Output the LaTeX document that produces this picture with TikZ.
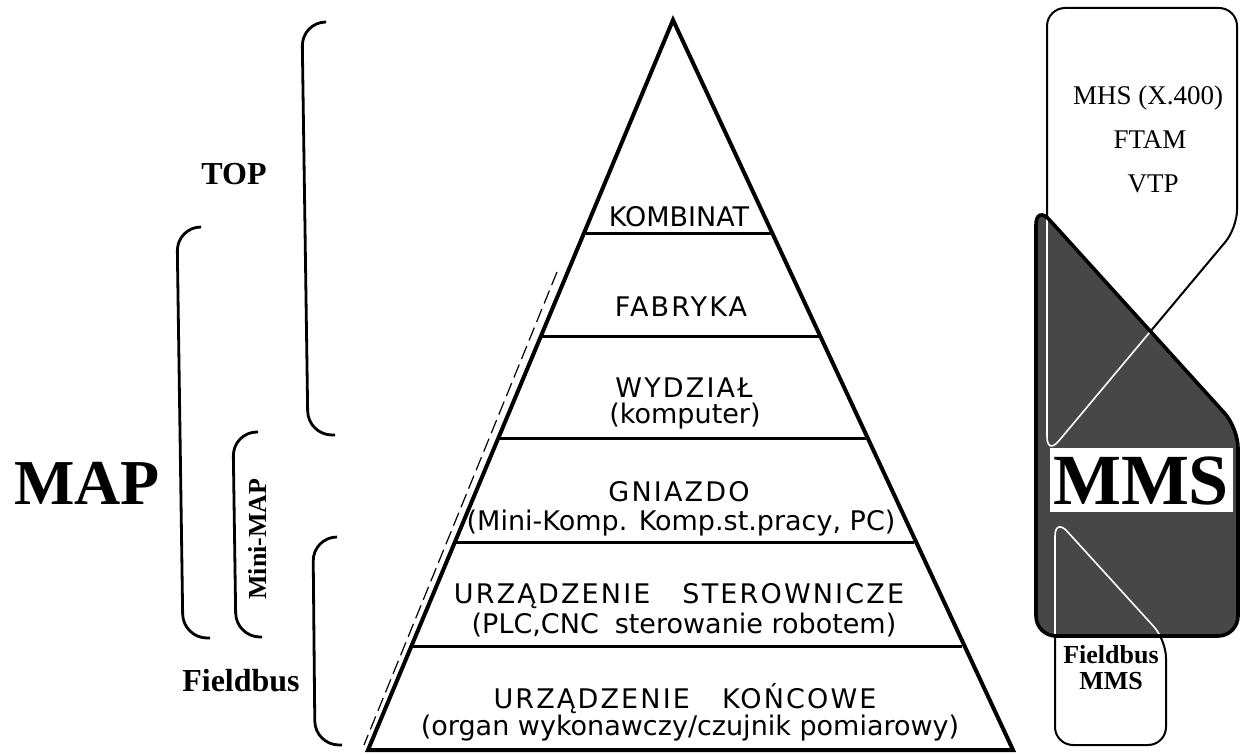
\documentclass[tikz,border=0pt]{standalone}
\usepackage{fontspec}
\setmainfont{Liberation Serif}
\newfontfamily\lay{DejaVu Sans}
\newfontfamily\layc{DejaVu Sans}[LetterSpace=8]
\begin{document}
\begin{tikzpicture}[x=0.5pt,y=-0.5pt,
  lay/.style={font=\lay\fontsize{13.5}{16}\selectfont, inner sep=0pt},
  capl/.style={font=\layc\fontsize{13.5}{16}\selectfont, inner sep=0pt},
  edge/.style={line width=2pt, line join=miter},
  layerline/.style={line width=1.5pt},
  brk/.style={line width=1.4pt, rounded corners=12pt},
  lbl/.style={font=\bfseries\fontsize{16}{18}\selectfont, inner sep=0pt},
  rtxt/.style={font=\fontsize{13.5}{16}\selectfont, inner sep=0pt},
  boxline/.style={line width=1pt, rounded corners=9pt},
  darkshape/.style={rounded corners=10pt}
]
\useasboundingbox (0,0) rectangle (1240,754);
\fill[white] (0,0) rectangle (1240,754);

% ---------- pyramid ----------
\coordinate (apex) at (673,20);
\coordinate (bl) at (368,750);
\coordinate (br) at (1013,750);
\draw[line width=0.6pt, dash pattern=on 7pt off 3pt] (557,272) -- (364,745);
\draw[edge] (bl) -- (apex) -- (br) -- cycle;
\draw[layerline] (584,233) -- (771,233);
\draw[layerline] (541,336) -- (819,336);
\draw[layerline] (498,438) -- (866,438);
\draw[layerline] (455,542) -- (914,542);
\draw[layerline] (411,646) -- (962,646);

\node[lay] (komb) at (679,217) {KOMBINAT};
\node[capl] (fabr) at (681,307) {FABRYKA};
\node[capl] (wydz) at (684,388) {WYDZIAŁ};
\node[lay] (komp) at (685,416) {(komputer)};
\node[capl] (gniaz) at (679,492) {GNIAZDO};
\node[lay] (minik) at (681,523) {(Mini-Komp. Komp.st.pracy, PC)};
\node[capl] (urzst) at (679,596) {URZĄDZENIE\hspace{16pt}STEROWNICZE};
\node[lay] (plc) at (684,625) {(PLC,CNC\hspace{8pt}sterowanie robotem)};
\node[capl] (urzko) at (685,699) {URZĄDZENIE\hspace{16pt}KOŃCOWE};
\node[lay] (organ) at (690,728) {(organ wykonawczy/czujnik pomiarowy)};

% ---------- left brackets and labels ----------
\draw[brk] (325,22) -- (302,22) -- (308,435) -- (335,435);
\draw[brk] (200,227) -- (177,227) -- (183,638) -- (210,638);
\draw[brk] (258,432) -- (233,432) -- (236,637) -- (262,637);
\draw[brk] (337,537) -- (313,537) -- (315,745) -- (342,745);

\node[lbl] (top) at (234,174) {TOP};
\node[font=\bfseries\fontsize{32}{36}\selectfont, inner sep=0pt] (map) at (87,483) {MAP};
\node[rotate=90, font=\bfseries\fontsize{13}{15}\selectfont, inner sep=0pt] (mini) at (257,539) {Mini-MAP};
\node[lbl] (fbus) at (241,681) {Fieldbus};

% ---------- right side ----------
\draw[boxline, fill=white] (1047,8) -- (1237,8) -- (1237,228) -- (1047,455) -- cycle;
\draw[boxline, fill=white] (1055,518) -- (1166,640) -- (1166,745) -- (1055,745) -- cycle;
\fill[darkshape, fill=black!72] (1036,205) -- (1238,428) -- (1238,636) -- (1036,636) -- cycle;
\begin{scope}
  \clip[darkshape] (1036,205) -- (1238,428) -- (1238,636) -- (1036,636) -- cycle;
  \draw[boxline, white, line width=0.8pt] (1047,8) -- (1237,8) -- (1237,228) -- (1047,455) -- cycle;
  \draw[boxline, white, line width=0.8pt] (1055,518) -- (1166,640) -- (1166,745) -- (1055,745) -- cycle;
\end{scope}
\draw[darkshape, line width=1.8pt] (1036,205) -- (1238,428) -- (1238,636) -- (1036,636) -- cycle;
\fill[white] (1050,448) rectangle (1233,512);

\node[rtxt] (mhs) at (1148,98) {MHS (X.400)};
\node[rtxt] (ftam) at (1150,140) {FTAM};
\node[rtxt] (vtp) at (1153,184) {VTP};
\node[font=\bfseries\fontsize{36}{40}\selectfont, inner sep=0pt] (mms) at (1141,481) {MMS};
\node[font=\bfseries\fontsize{13}{13}\selectfont, inner sep=0pt, align=center] (fbmms) at (1111,668) {Fieldbus\\MMS};
\end{tikzpicture}
\end{document}
